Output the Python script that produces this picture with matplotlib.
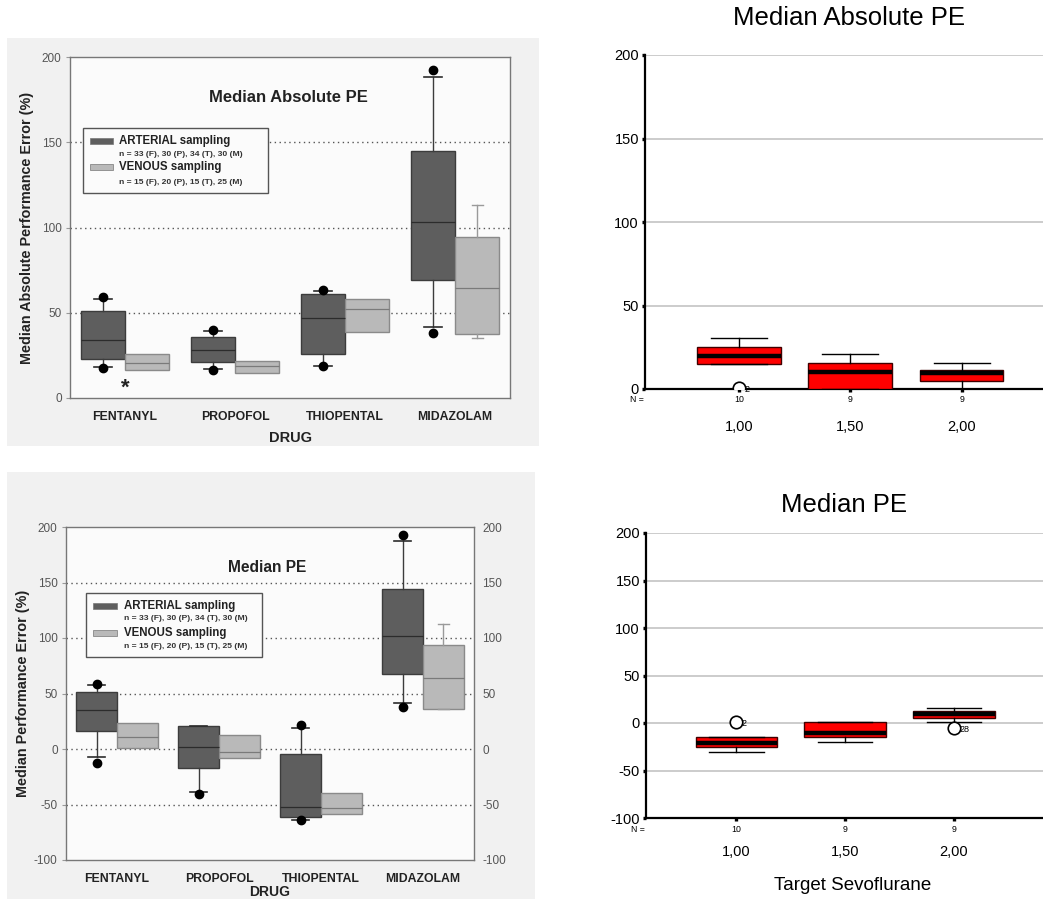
import numpy as np
import matplotlib
matplotlib.use("Agg")
import matplotlib.pyplot as plt
from matplotlib.patches import Rectangle

plt.rcParams['font.family'] = ['Liberation Sans', 'DejaVu Sans']

# ---------------- data ----------------
drugs = ['FENTANYL', 'PROPOFOL', 'THIOPENTAL', 'MIDAZOLAM']

# Median Absolute PE (left, top)
abs_art_q1 = [23, 21, 26, 69]
abs_art_med = [34, 28, 47, 103]
abs_art_q3 = [51, 36, 61, 145]
abs_art_wlo = [18, 17, 18.5, 41.5]
abs_art_whi = [58, 39.5, 63, 188]
abs_art_dot_lo = [17.5, 16.6, 18.5, 38]
abs_art_dot_hi = [59, 39.6, 63.4, 192.6]
abs_ven_q1 = [16.6, 14.6, 39, 37.7]
abs_ven_med = [20.5, 18.5, 52, 64.4]
abs_ven_q3 = [26, 21.5, 58, 94.6]
abs_ven_wlo = [16.6, 14.6, 39, 35]
abs_ven_whi = [26, 21.5, 58, 113]

# Median PE (left, bottom)
pe_art_q1 = [16.5, -16.8, -61, 68]
pe_art_med = [35, 2, -52, 102]
pe_art_q3 = [51, 21, -4.8, 144.3]
pe_art_wlo = [-7, -38.4, -64, 41]
pe_art_whi = [57.6, 21, 19, 187.4]
pe_art_dot_lo = [-12.3, -40.8, -64, 38]
pe_art_dot_hi = [59, np.nan, 22, 193]
pe_ven_q1 = [0.6, -8.4, -58.5, 35.7]
pe_ven_med = [11, -2.4, -52.8, 63.6]
pe_ven_q3 = [23.7, 13, -39.3, 94]
pe_ven_wlo = [0.6, -8.4, -58.5, 35.7]
pe_ven_whi = [23.7, 13, -39.3, 113]

# Sevoflurane panels (right)
sevo_labels = ['1,00', '1,50', '2,00']
sevo_n = [10, 9, 9]
sabs_q1 = [15, 0, 4.8]
sabs_med = [20, 10, 9.6]
sabs_q3 = [25.3, 15.4, 11.4]
sabs_wlo = [15, 0, 0]
sabs_whi = [30.7, 20.8, 15.4]
sabs_out_x = [1]
sabs_out_y = [0.4]
sabs_out_lab = ['2']

spe_q1 = [-25.6, -15, 4.9]
spe_med = [-21, -10, 10]
spe_q3 = [-14.4, 0.7, 12.3]
spe_wlo = [-30, -19.6, 0.7]
spe_whi = [-14.4, 0.7, 15.7]
spe_out_x = [1, 3]
spe_out_y = [0.7, -5.2]
spe_out_lab = ['2', '28']

# ---------------- layout helpers ----------------
W, H = 1043, 899
fig = plt.figure(figsize=(W / 100, H / 100), dpi=100)
fig.patch.set_facecolor('white')


def rect(x0, y0, x1, y1):
    return [x0 / W, 1 - y1 / H, (x1 - x0) / W, (y1 - y0) / H]


def frac(r, x, y):
    x0, y0, x1, y1 = r
    return (x - x0) / (x1 - x0), (y1 - y) / (y1 - y0)


def stats(q1, med, q3, wlo, whi):
    return [dict(q1=a, med=b, q3=c, whislo=d, whishi=e, fliers=[])
            for a, b, c, d, e in zip(q1, med, q3, wlo, whi)]


# scanned-panel backgrounds
fig.add_artist(Rectangle((7 / W, 1 - 446 / H), (539 - 7) / W, (446 - 38) / H,
                         transform=fig.transFigure, facecolor='#f1f1f1',
                         edgecolor='none', zorder=-10))
fig.add_artist(Rectangle((7 / W, 0), (535 - 7) / W, (899 - 472) / H,
                         transform=fig.transFigure, facecolor='#f1f1f1',
                         edgecolor='none', zorder=-10))

DARK = '#5e5e5e'
LIGHT = '#b9b9b9'
TXT = '#222222'
TICK = '#555555'


def scan_panel(r, ylim, yticks, grid_vals, art, ven, dots_lo, dots_hi,
               title, title_xy, ylabel, ylabel_x, legend_px, right_labels,
               xlabel_pad, xlabel_size):
    ax = fig.add_axes(rect(*r))
    ax.set_facecolor('#fbfbfb')
    ax.set_xlim(-0.5, 3.5)
    ax.set_ylim(*ylim)
    x = np.arange(len(drugs))
    for g in grid_vals:
        ax.axhline(g, color='#555555', lw=1.0, ls=(0, (1, 2.5)), zorder=1)
    common = dict(patch_artist=True, showfliers=False, manage_ticks=False)
    art_caps = [0.16 if s['whishi'] > s['q3'] or s['whislo'] < s['q1'] else 0.0 for s in art]
    ven_caps = [0.1 if s['whishi'] > s['q3'] else 0.0 for s in ven]
    ax.bxp(art, positions=x - 0.2, widths=0.4, capwidths=art_caps,
           boxprops=dict(facecolor=DARK, edgecolor='#3c3c3c', lw=1.0),
           medianprops=dict(color='#2c2c2c', lw=0.9),
           whiskerprops=dict(color='#3c3c3c', lw=1.0),
           capprops=dict(color='#2c2c2c', lw=1.2), zorder=3, **common)
    ax.bxp(ven, positions=x + 0.2, widths=0.4, capwidths=ven_caps,
           boxprops=dict(facecolor=LIGHT, edgecolor='#8a8a8a', lw=1.0),
           medianprops=dict(color='#7a7a7a', lw=0.9),
           whiskerprops=dict(color='#9a9a9a', lw=1.0),
           capprops=dict(color='#9a9a9a', lw=1.0), zorder=3, **common)
    ax.plot(x - 0.2, dots_lo, 'o', color='black', ms=6, zorder=4)
    ax.plot(x - 0.2, dots_hi, 'o', color='black', ms=6, zorder=4)
    for s in ax.spines.values():
        s.set_color('#777777')
        s.set_linewidth(1.0)
    ax.set_yticks(yticks)
    ax.set_yticklabels([str(v) for v in yticks])
    ax.tick_params(axis='y', length=3, color='#999999', labelsize=8.5,
                   labelcolor=TICK, pad=3, labelright=right_labels, right=False)
    ax.set_xticks(x)
    ax.set_xticklabels(drugs, fontweight='bold', fontsize=8.8, color=TXT)
    ax.tick_params(axis='x', length=0, pad=9)
    ax.set_xlabel('DRUG', fontweight='bold', fontsize=xlabel_size, color=TXT,
                  labelpad=xlabel_pad)
    fx, fy = frac(r, *title_xy)
    ax.text(fx, fy, title, transform=ax.transAxes, ha='center', va='center',
            fontweight='bold', fontsize=12 if 'Absolute' in title else 11.2, color=TXT)
    fx, fy = frac(r, ylabel_x, (r[1] + r[3]) / 2)
    ax.text(fx, fy, ylabel, transform=ax.transAxes, rotation=90, ha='center',
            va='center', fontweight='bold', fontsize=10.4, color=TXT)
    # legend
    lx0, ly0, lx1, ly1, rows = legend_px
    a0 = frac(r, lx0, ly1)
    a1 = frac(r, lx1, ly0)
    ax.add_patch(Rectangle(a0, a1[0] - a0[0], a1[1] - a0[1], transform=ax.transAxes,
                           facecolor='#fbfbfb', edgecolor='#555555', lw=1.0, zorder=6))
    labels = [('ARTERIAL sampling', 'n = 33 (F), 30 (P), 34 (T), 30 (M)', DARK),
              ('VENOUS sampling', 'n = 15 (F), 20 (P), 15 (T), 25 (M)', LIGHT)]
    sx0, sx1, tx, (y1a, y1b, y2a, y2b) = rows
    for (big, small, col), ya, yb in zip(labels, (y1a, y2a), (y1b, y2b)):
        p0 = frac(r, sx0, ya + 3)
        p1 = frac(r, sx1, ya - 3)
        ax.add_patch(Rectangle(p0, p1[0] - p0[0], p1[1] - p0[1], transform=ax.transAxes,
                               facecolor=col, edgecolor='#777777', lw=0.5, zorder=7))
        t = frac(r, tx, ya)
        ax.text(*t, big, transform=ax.transAxes, ha='left', va='center',
                fontsize=8.3, fontweight='bold', color=TXT, zorder=8)
        t = frac(r, tx, yb)
        ax.text(*t, small, transform=ax.transAxes, ha='left', va='center',
                fontsize=6.1, fontweight='bold', color='#333333', zorder=8)
    return ax


# ---- top-left: Median Absolute PE ----
rA = (70, 57, 510, 398)
axA = scan_panel(rA, (0, 200), [0, 50, 100, 150, 200], [50, 100, 150],
                 stats(abs_art_q1, abs_art_med, abs_art_q3, abs_art_wlo, abs_art_whi),
                 stats(abs_ven_q1, abs_ven_med, abs_ven_q3, abs_ven_wlo, abs_ven_whi),
                 abs_art_dot_lo, abs_art_dot_hi,
                 'Median Absolute PE', (288, 98),
                 'Median Absolute Performance Error (%)', 27,
                 (83, 128, 268, 193, (90, 113, 119, (141, 154, 167, 182))), False, 6, 10.5)
axA.text(0, 6, '*', ha='center', va='center', fontsize=16, fontweight='bold', color=TXT)

# ---- bottom-left: Median PE ----
rB = (66, 527, 474, 860)
axB = scan_panel(rB, (-100, 200), [-100, -50, 0, 50, 100, 150, 200],
                 [-50, 0, 50, 100, 150],
                 stats(pe_art_q1, pe_art_med, pe_art_q3, pe_art_wlo, pe_art_whi),
                 stats(pe_ven_q1, pe_ven_med, pe_ven_q3, pe_ven_wlo, pe_ven_whi),
                 pe_art_dot_lo, pe_art_dot_hi,
                 'Median PE', (267, 567),
                 'Median Performance Error (%)', 23,
                 (86, 593, 262, 657, (93, 117, 124, (606, 619, 633, 646))), True, 0, 10)


# ---- right panels (SPSS style) ----
def spss_panel(r, xlim, ylim, yticks, st, out_x, out_y, out_lab, nrow_y, lab_y):
    ax = fig.add_axes(rect(*r))
    ax.set_xlim(*xlim)
    ax.set_ylim(*ylim)
    ax.set_facecolor('white')
    for g in yticks[1:]:
        ax.axhline(g, color='#c4c4c4', lw=1.2, zorder=1)
    pos = np.arange(1, len(sevo_labels) + 1)
    ax.bxp(st, positions=pos, widths=0.75, capwidths=0.5, patch_artist=True,
           showfliers=False, manage_ticks=False,
           boxprops=dict(facecolor='#ff0000', edgecolor='#400000', lw=1.0),
           medianprops=dict(color='black', lw=3.2),
           whiskerprops=dict(color='black', lw=1.0),
           capprops=dict(color='black', lw=1.0), zorder=3)
    ax.plot(out_x, out_y, 'o', ms=9, mfc='white', mec='black', mew=1.2, zorder=5)
    for xx, yy, lb in zip(out_x, out_y, out_lab):
        ax.annotate(lb, (xx, yy), xytext=(4, -1), textcoords='offset points',
                    fontsize=6.5, ha='left', va='center', zorder=6)
    for k in ('top', 'right'):
        ax.spines[k].set_visible(False)
    for k in ('left', 'bottom'):
        ax.spines[k].set_linewidth(1.6)
        ax.spines[k].set_color('black')
    ax.set_yticks(yticks)
    ax.set_yticklabels([str(v) for v in yticks])
    ax.tick_params(axis='y', length=2.4, width=2.4, direction='out', labelsize=10.5,
                   pad=2, color='black')
    ax.set_xticks(pos)
    ax.set_xticklabels(sevo_labels, fontsize=10.5)
    _, fl = frac(r, 0, lab_y)
    ax.tick_params(axis='x', length=2.4, width=2.4, direction='out', color='black',
                   pad=(-fl * (r[3] - r[1]) - 6) * 0.72)
    _, fn = frac(r, 0, nrow_y)
    for p, n in zip(pos, sevo_n):
        ax.text(p, fn, str(n), transform=ax.get_xaxis_transform(), ha='center',
                va='center', fontsize=6.3)
    fx, _ = frac(r, r[0] - 1, 0)
    ax.text(fx, fn, 'N =', transform=ax.transAxes, ha='right', va='center', fontsize=6.3)
    return ax


rC = (645, 55, 1043, 389)
axC = spss_panel(rC, (0.158, 3.73), (0, 200), [0, 50, 100, 150, 200],
                 stats(sabs_q1, sabs_med, sabs_q3, sabs_wlo, sabs_whi),
                 sabs_out_x, sabs_out_y, sabs_out_lab, 400, 423)
fig.text(849 / W, 1 - 18 / H, 'Median Absolute PE', ha='center', va='center', fontsize=18.5)

rD = (646, 533, 1043, 818)
axD = spss_panel(rD, (0.169, 3.82), (-100, 200), [-100, -50, 0, 50, 100, 150, 200],
                 stats(spe_q1, spe_med, spe_q3, spe_wlo, spe_whi),
                 spe_out_x, spe_out_y, spe_out_lab, 829, 848)
fig.text(844 / W, 1 - 505 / H, 'Median PE', ha='center', va='center', fontsize=18.5)
fig.text(853 / W, 1 - 885 / H, 'Target Sevoflurane', ha='center', va='center', fontsize=13.5)

fig.savefig('out.png', dpi=100)
